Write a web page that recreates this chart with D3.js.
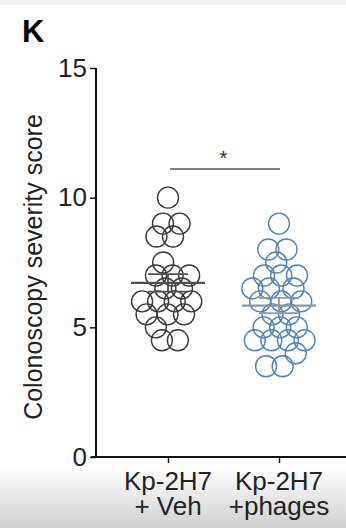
<!DOCTYPE html>
<html>
<head>
<meta charset="utf-8">
<script src="https://cdn.jsdelivr.net/npm/d3@7"></script>
<style>
  body { margin: 0; background: #fff; }
  svg text { font-family: "Liberation Sans", Arial, sans-serif; }
</style>
</head>
<body>
<div id="container"></div>
<script>
let w = 346;
let h = 528;

// data
let groups = ["Kp-2H7 + Veh", "Kp-2H7 +phages"];
let groupLines = [["Kp-2H7", "+ Veh"], ["Kp-2H7", "+phages"]];
let vehScores = [10, 9, 9, 8.5, 8.5, 7.5, 7, 7, 7, 6.5, 6.5, 6, 6, 6, 6, 5.5, 5.5, 5.5, 5, 4.5, 4.5];
let phageScores = [9, 8, 8, 7.5, 7, 7, 7, 6.5, 6.5, 6.5, 6, 6, 6, 5.5, 5.5, 5, 5, 5, 4.5, 4.5, 4.5, 4.5, 4, 3.5, 3.5];
let yTicks = [0, 5, 10, 15];
let colors = ["#3a3a3a", "#4f82b8"];
let meanColors = ["#505050", "#8a96a6"];

let svg = d3.select('#container')
              .append("svg")
                .attr("width", w)
                .attr("height", h)
;

// background bits (grey strip on top, grey fade at the bottom)
let defs = svg.append("defs");
let grad = defs.append("linearGradient")
                .attr("id", "fade")
                .attr("x1", 0).attr("y1", 0)
                .attr("x2", 0).attr("y2", 1);
grad.append("stop").attr("offset", "0%").attr("stop-color", "#ffffff");
grad.append("stop").attr("offset", "100%").attr("stop-color", "#d0d0d0");

svg.append("rect").attr("x", 0).attr("y", 0).attr("width", w).attr("height", 5).attr("fill", "#f2f2f2");
svg.append("rect").attr("x", 0).attr("y", 466).attr("width", w).attr("height", h - 466).attr("fill", "url(#fade)");

let y = d3.scaleLinear().domain([0, 15]).range([457, 68]);
let x = d3.scalePoint().domain(groups).range([168, 279]);

// panel letter
svg.append("text")
    .text("K")
    .attr("x", 22)
    .attr("y", 42)
    .style("font-size", "31px")
    .style("font-weight", "bold")
;

// y axis
let yAxis = d3.axisLeft(y).tickValues(yTicks).tickSize(6).tickPadding(3);
let gy = svg.append("g").attr("transform", "translate(96,0)").call(yAxis);
gy.select(".domain").attr("stroke", "#111").attr("stroke-width", 2).attr("d", "M0,68V457");
gy.selectAll(".tick line").attr("stroke", "#111").attr("stroke-width", 1.5);
gy.selectAll(".tick text")
    .attr("fill", "#222")
    .style("font-size", "26px")
    .style("font-family", "'Liberation Sans', Arial, sans-serif")
;

// x axis
let xAxis = d3.axisBottom(x).tickSize(6).tickFormat("");
let gx = svg.append("g").attr("transform", "translate(0,457)").call(xAxis);
gx.select(".domain").attr("stroke", "#111").attr("stroke-width", 2).attr("d", "M91,0H346");
gx.selectAll(".tick line").attr("stroke", "#111").attr("stroke-width", 1.5);

groups.forEach(function(g, i) {
  let t = svg.append("text")
              .attr("x", x(g))
              .attr("text-anchor", "middle")
              .attr("fill", "#222")
              .style("font-size", "26px")
  ;
  groupLines[i].forEach(function(line, j) {
    t.append("tspan").attr("x", x(g)).attr("y", 490 + j * 25).text(line);
  });
});

// y label
svg.append("text")
    .text("Colonoscopy severity score")
    .attr("transform", "translate(42,267) rotate(-90)")
    .attr("text-anchor", "middle")
    .attr("fill", "#222")
    .style("font-size", "25px")
;

// points, spread as a swarm
let allScores = [vehScores, phageScores];
let r = 10.5;

allScores.forEach(function(scores, i) {
  let nodes = scores.map(v => ({ v: v, x: x(groups[i]), y: y(v) }));
  let sim = d3.forceSimulation(nodes)
              .force("x", d3.forceX(x(groups[i])).strength(0.15))
              .force("y", d3.forceY(d => y(d.v)).strength(1))
              .force("collide", d3.forceCollide(8.3))
              .stop();
  for (let k = 0; k < 300; k++) sim.tick();

  svg.append("g").selectAll("circle").data(nodes).enter()
      .append("circle")
        .attr("cx", d => d.x)
        .attr("cy", d => y(d.v))
        .attr("r", r)
        .attr("fill", "none")
        .attr("stroke", colors[i])
        .attr("stroke-width", 1.4)
  ;

  let m = d3.mean(scores);
  let sem = d3.deviation(scores) / Math.sqrt(scores.length);
  let cx = x(groups[i]);
  svg.append("line")
      .attr("x1", cx - 37).attr("x2", cx + 37)
      .attr("y1", y(m)).attr("y2", y(m))
      .attr("stroke", meanColors[i]).attr("stroke-width", 2.2);
  svg.append("line")
      .attr("x1", cx).attr("x2", cx)
      .attr("y1", y(m - sem)).attr("y2", y(m + sem))
      .attr("stroke", meanColors[i]).attr("stroke-width", 1.8);
  [m - sem, m + sem].forEach(function(v) {
    svg.append("line")
        .attr("x1", cx - 20).attr("x2", cx + 20)
        .attr("y1", y(v)).attr("y2", y(v))
        .attr("stroke", meanColors[i]).attr("stroke-width", 1.8);
  });
});

// significance bar
svg.append("line")
    .attr("x1", x(groups[0]) + 2).attr("x2", x(groups[1]) + 1)
    .attr("y1", 169).attr("y2", 169)
    .attr("stroke", "#808080").attr("stroke-width", 2.2);
svg.append("text")
    .text("*")
    .attr("x", (x(groups[0]) + x(groups[1])) / 2)
    .attr("y", 165)
    .attr("text-anchor", "middle")
    .attr("fill", "#333")
    .style("font-size", "20px")
;
</script>
</body>
</html>
